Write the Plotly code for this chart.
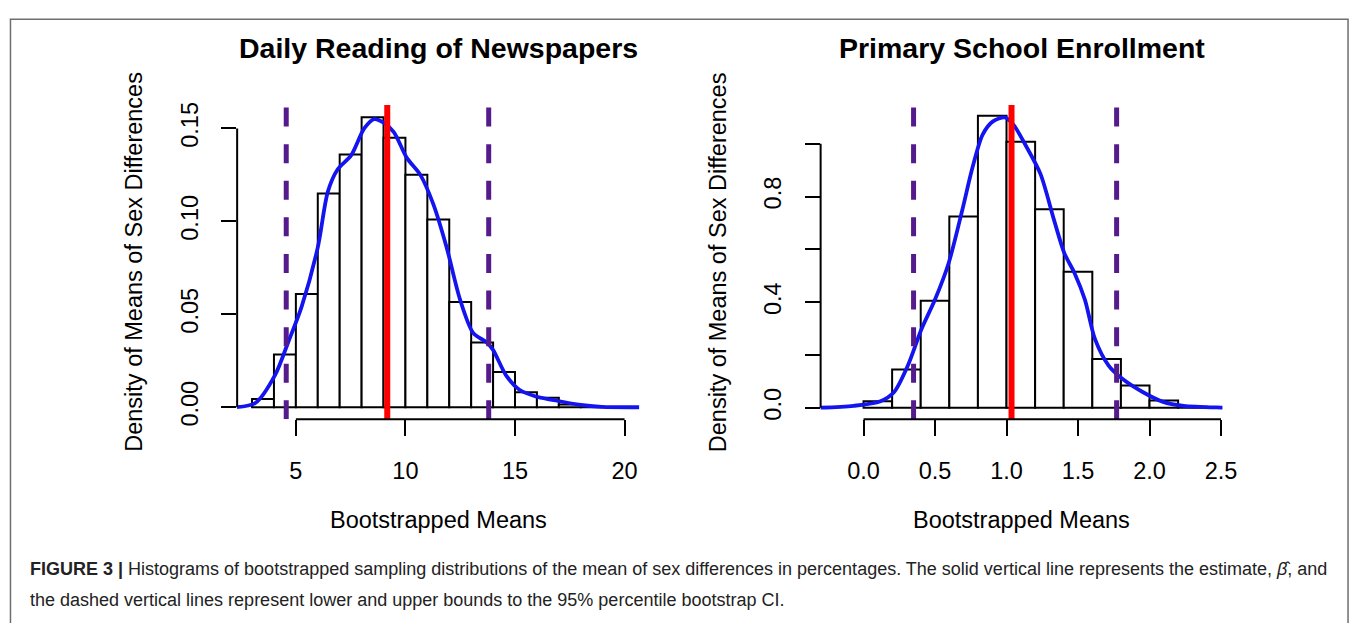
import plotly.graph_objects as go

W, H = 1358, 623

# ---------------- data: Daily Reading of Newspapers ----------------
news_breaks = [3, 4, 5, 6, 7, 8, 9, 10, 11, 12, 13, 14, 15, 16, 17, 18, 19]
news_density = [0.0044, 0.0284, 0.0609, 0.115, 0.136, 0.156, 0.145, 0.125,
                0.101, 0.0566, 0.0348, 0.019, 0.0081, 0.0051, 0.0015, 0.0005]
news_kde_x = [2.24, 3.15, 4.05, 4.65, 5.26, 6.0, 6.46, 6.91, 7.52, 8.12, 8.57,
              9.02, 9.47, 10.07, 10.68, 11.28, 11.88, 12.49, 13.09, 13.69,
              13.99, 14.6, 15.2, 15.95, 16.7, 17.9, 18.96, 20.68]
news_kde_y = [0.0, 0.0023, 0.0173, 0.035, 0.054, 0.086, 0.116, 0.128, 0.1355,
              0.150, 0.155, 0.153, 0.148, 0.134, 0.125, 0.109, 0.086, 0.058,
              0.040, 0.035, 0.031, 0.017, 0.0094, 0.0058, 0.004, 0.0014,
              0.0002, 0.0]
news_estimate = 9.17
news_ci = [4.56, 13.80]
news_xticks = [5, 10, 15, 20]
news_xticklabels = ["5", "10", "15", "20"]
news_yticks = [0.0, 0.05, 0.10, 0.15]
news_yticklabels = ["0.00", "0.05", "0.10", "0.15"]

# ---------------- data: Primary School Enrollment ----------------
enroll_breaks = [0.0, 0.2, 0.4, 0.6, 0.8, 1.0, 1.2, 1.4, 1.6, 1.8, 2.0, 2.2, 2.4]
enroll_density = [0.025, 0.145, 0.406, 0.725, 1.106, 1.0075, 0.7525, 0.515,
                  0.185, 0.085, 0.0275, 0.004]
enroll_kde_x = [-0.33, -0.07, 0.119, 0.214, 0.31, 0.405, 0.5, 0.595, 0.69,
                0.762, 0.833, 0.905, 0.988, 1.048, 1.143, 1.238, 1.333, 1.405,
                1.476, 1.548, 1.619, 1.714, 1.81, 1.952, 2.095, 2.238, 2.5, 2.62]
enroll_kde_y = [0.0, 0.0075, 0.025, 0.06, 0.16, 0.2975, 0.41, 0.5475, 0.7475,
                0.91, 1.035, 1.085, 1.10, 1.0725, 0.985, 0.885, 0.71, 0.585,
                0.51, 0.41, 0.26, 0.16, 0.11, 0.06, 0.0225, 0.0075, 0.001, 0.0]
enroll_estimate = 1.035
enroll_ci = [0.35, 1.77]
enroll_xticks = [0.0, 0.5, 1.0, 1.5, 2.0, 2.5]
enroll_xticklabels = ["0.0", "0.5", "1.0", "1.5", "2.0", "2.5"]
enroll_yticks = [0.0, 0.2, 0.4, 0.6, 0.8, 1.0]
enroll_yticklabels = ["0.0", "", "0.4", "", "0.8", ""]

titles = ["Daily Reading of Newspapers", "Primary School Enrollment"]
x_title = "Bootstrapped Means"
y_title = "Density of Means of Sex Differences"
caption1 = ("<b>FIGURE 3 |</b> Histograms of bootstrapped sampling distributions of the mean of sex "
            "differences in percentages. The solid vertical line represents the estimate, "
            "<i>\u03b2\u0302</i>, and")
caption2 = ("the dashed vertical lines represent lower and upper bounds to the 95% "
            "percentile bootstrap CI.")

FONT = "Liberation Sans, Arial, Helvetica, sans-serif"
BLUE = "#1414f0"
RED = "#ff0000"
PURPLE = "#551a8b"
BASE = 23.5


def px(x):
    return x / W


def py(y):
    return 1 - y / H


PLOT_TOP, PLOT_BOTTOM = 95.5, 415

panels = [
    dict(breaks=news_breaks, dens=news_density, kx=news_kde_x, ky=news_kde_y,
         est=news_estimate, ci=news_ci, xt=news_xticks, xtl=news_xticklabels,
         yt=news_yticks, ytl=news_yticklabels,
         xdom=(231.7, 638.3), xrange=(2.32, 20.67), yrange=(-0.0065, 0.1626),
         ax="x", ay="y"),
    dict(breaks=enroll_breaks, dens=enroll_density, kx=enroll_kde_x, ky=enroll_kde_y,
         est=enroll_estimate, ci=enroll_ci, xt=enroll_xticks, xtl=enroll_xticklabels,
         yt=enroll_yticks, ytl=enroll_yticklabels,
         xdom=(821.7, 1228), xrange=(-0.30, 2.51), yrange=(-0.0436, 1.147),
         ax="x2", ay="y2"),
]

fig = go.Figure()
shapes = []
annotations = []
layout_axes = {}

for i, p in enumerate(panels):
    br = p["breaks"]
    n = len(p["dens"])
    mids = [(br[k] + br[k + 1]) / 2 for k in range(n)]
    widths = [br[k + 1] - br[k] for k in range(n)]
    fig.add_trace(go.Bar(
        x=mids, y=p["dens"], width=widths, xaxis=p["ax"], yaxis=p["ay"],
        marker=dict(color="white", line=dict(color="black", width=2)),
        showlegend=False, hoverinfo="skip"))
    fig.add_trace(go.Scatter(
        x=p["kx"], y=p["ky"], mode="lines", xaxis=p["ax"], yaxis=p["ay"],
        line=dict(color=BLUE, width=3.8, shape="spline", smoothing=0.8),
        showlegend=False, hoverinfo="skip"))
    for c in p["ci"]:
        fig.add_trace(go.Scatter(
            x=[c, c], y=list(p["yrange"]), mode="lines", xaxis=p["ax"], yaxis=p["ay"],
            line=dict(color=PURPLE, width=5, dash="19px,17.6px"),
            showlegend=False, hoverinfo="skip"))
    fig.add_trace(go.Scatter(
        x=[p["est"], p["est"]], y=list(p["yrange"]), mode="lines",
        xaxis=p["ax"], yaxis=p["ay"],
        line=dict(color=RED, width=6), showlegend=False, hoverinfo="skip"))

    suffix = "" if i == 0 else "2"
    layout_axes["xaxis" + suffix] = dict(
        domain=[px(p["xdom"][0]), px(p["xdom"][1])], range=list(p["xrange"]),
        anchor="y" + suffix, tickvals=p["xt"], ticktext=p["xtl"],
        ticks="outside", ticklen=16, tickwidth=2, tickcolor="black",
        showline=False, showgrid=False, zeroline=False,
        tickfont=dict(family=FONT, size=BASE, color="black"), ticklabelstandoff=14)
    layout_axes["yaxis" + suffix] = dict(
        domain=[py(PLOT_BOTTOM), py(PLOT_TOP)], range=list(p["yrange"]),
        anchor="x" + suffix, tickvals=p["yt"], ticktext=p["ytl"],
        ticks="outside", ticklen=15, tickwidth=2, tickcolor="black",
        showline=False, showgrid=False, zeroline=False, tickangle=-90,
        tickfont=dict(family=FONT, size=BASE, color="black"), ticklabelstandoff=14)

    # R-style axis lines spanning only first..last tick
    shapes.append(dict(type="line", xref=p["ax"], yref=p["ay"] + " domain",
                       x0=p["xt"][0], x1=p["xt"][-1], y0=0, y1=0,
                       line=dict(color="black", width=2)))
    shapes.append(dict(type="line", xref=p["ax"] + " domain", yref=p["ay"],
                       x0=0, x1=0, y0=p["yt"][0], y1=p["yt"][-1],
                       line=dict(color="black", width=2)))

    cx = (p["xdom"][0] + p["xdom"][1]) / 2
    annotations.append(dict(text="<b>" + titles[i] + "</b>", x=px(cx), y=py(38),
                            xref="paper", yref="paper", showarrow=False,
                            xanchor="center", yanchor="middle",
                            font=dict(family=FONT, size=28.5, color="black")))
    annotations.append(dict(text=y_title, x=px(p["xdom"][0] - 103.7),
                            y=py((PLOT_TOP + PLOT_BOTTOM) / 2),
                            xref="paper", yref="paper", showarrow=False,
                            textangle=-90, xanchor="center", yanchor="middle",
                            font=dict(family=FONT, size=BASE, color="black")))
    annotations.append(dict(text=x_title, x=px(cx), y=py(517),
                            xref="paper", yref="paper", showarrow=False,
                            xanchor="center", yanchor="middle",
                            font=dict(family=FONT, size=BASE, color="black")))

CAP_FONT = "Liberation Sans Narrow, Arial Narrow, Liberation Sans, sans-serif"
annotations.append(dict(text=caption1, x=px(20), y=py(567), xref="paper", yref="paper",
                        showarrow=False, xanchor="left", yanchor="middle", align="left",
                        font=dict(family=CAP_FONT, size=18, color="#222222")))
annotations.append(dict(text=caption2, x=px(20), y=py(599), xref="paper", yref="paper",
                        showarrow=False, xanchor="left", yanchor="middle", align="left",
                        font=dict(family=CAP_FONT, size=18, color="#222222")))

# outer frame
shapes.append(dict(type="rect", xref="paper", yref="paper",
                   x0=px(2.5), x1=px(1355), y0=py(640), y1=py(8.5),
                   line=dict(color="#6e6e6e", width=1.5), layer="below"))

fig.update_layout(
    width=W, height=H, margin=dict(l=0, r=0, t=0, b=0),
    paper_bgcolor="white", plot_bgcolor="white",
    barmode="overlay", shapes=shapes, annotations=annotations,
    **layout_axes)

fig.write_html("out.html")
